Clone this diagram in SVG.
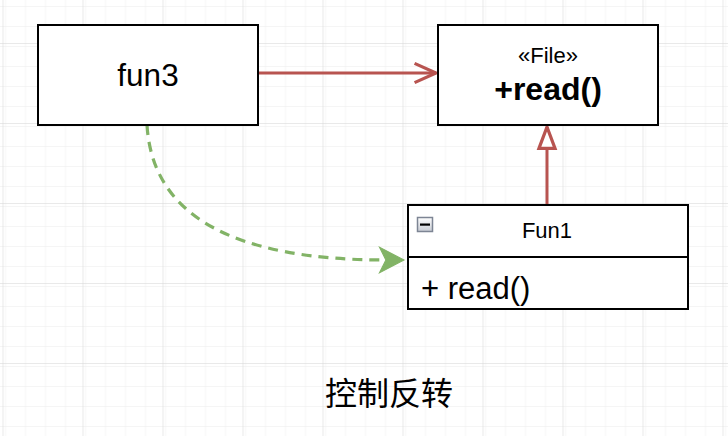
<svg xmlns="http://www.w3.org/2000/svg" width="728" height="436" viewBox="0 0 728 436">
<defs>
<pattern id="minor" width="20" height="20" patternUnits="userSpaceOnUse" x="2.5" y="3">
<path d="M20 0 L0 0 0 20" fill="none" stroke="#ececec" stroke-width="1"/>
</pattern>
<pattern id="major" width="80" height="80" patternUnits="userSpaceOnUse" x="2.5" y="43">
<rect width="80" height="80" fill="url(#minor)"/>
<path d="M80 0 L0 0 0 80" fill="none" stroke="#d4d4d4" stroke-width="1"/>
</pattern>
<marker id="openArrow" markerUnits="userSpaceOnUse" markerWidth="30" markerHeight="30" viewBox="-24 -12 28 24" refX="0" refY="0" orient="auto">
<path d="M-20,-9 L0,0 L-20,9" fill="none" stroke="#b85450" stroke-width="3"/>
</marker>
<marker id="hollowTri" markerUnits="userSpaceOnUse" markerWidth="30" markerHeight="30" viewBox="-24 -12 28 24" refX="0" refY="0" orient="auto">
<path d="M-20,-7.5 L0,0 L-20,7.5 Z" fill="#ffffff" stroke="#b85450" stroke-width="3"/>
</marker>
<marker id="filledArrow" markerUnits="userSpaceOnUse" markerWidth="32" markerHeight="32" viewBox="-26 -14 30 28" refX="0" refY="0" orient="auto">
<path d="M-23,-12 L0,0 L-23,12 L-17,0 Z" fill="#82b366" stroke="#82b366" stroke-width="1"/>
</marker>
<linearGradient id="iconGrad" x1="0" y1="0" x2="0" y2="1">
<stop offset="0" stop-color="#ffffff"/>
<stop offset="1" stop-color="#c8ccd4"/>
</linearGradient>
</defs>
<style>
.box{fill:#ffffff;stroke:#000000;stroke-width:2}
.t{font-family:"Liberation Sans",Arial,sans-serif;fill:#000000}
.red{fill:none;stroke:#b85450;stroke-width:3}
.green{fill:none;stroke:#82b366;stroke-width:3.2;stroke-dasharray:10 7}
</style>
<rect width="728" height="436" fill="#ffffff"/>
<rect width="728" height="436" fill="url(#major)"/>

<g id="connectors">
<path class="red" d="M258,73 L436,73" marker-end="url(#openArrow)"/>
<path class="red" d="M547,205 L547,127" marker-end="url(#hollowTri)"/>
<path class="green" d="M147,125 Q155,260 386,260" />
<path d="M386,260 L404,260" fill="none" stroke="none" marker-end="url(#filledArrow)"/>
</g>

<g id="fun3">
<rect class="box" x="38" y="25" width="220" height="100"/>
<text class="t" x="148" y="86" font-size="31.5" text-anchor="middle">fun3</text>
</g>

<g id="file">
<rect class="box" x="438" y="25" width="220" height="100"/>
<text class="t" x="548" y="63" font-size="22" text-anchor="middle">«File»</text>
<text class="t" x="548" y="100" font-size="32" font-weight="bold" text-anchor="middle">+read()</text>
</g>

<g id="fun1">
<rect class="box" x="408" y="205" width="280" height="104"/>
<line x1="408" y1="257" x2="688" y2="257" stroke="#000000" stroke-width="2"/>
<rect x="417.5" y="217.5" width="15" height="14" fill="url(#iconGrad)" stroke="#7d8594" stroke-width="1.5"/>
<rect x="420" y="223.5" width="10" height="2.2" fill="#000000"/>
<text class="t" x="547" y="238" font-size="22" text-anchor="middle">Fun1</text>
<text class="t" x="421" y="299" font-size="31">+ read()</text>
</g>

<text class="t" x="389" y="405" font-size="32" text-anchor="middle" style="font-family:'Liberation Sans','Noto Sans CJK SC',sans-serif">控制反转</text>
</svg>
